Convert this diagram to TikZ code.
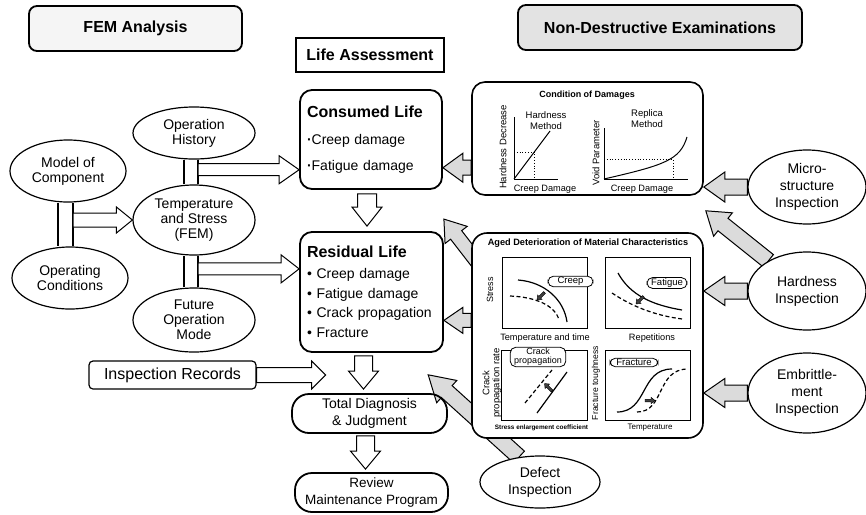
\documentclass[tikz,border=0pt]{standalone}
\usepackage{fontspec}
\setmainfont{Liberation Sans}
\usetikzlibrary{shapes.geometric,calc}
\pgfdeclarelayer{back}
\pgfsetlayers{back,main}

\newcommand{\bigbold}{\fontsize{16}{18}\selectfont\bfseries}
% block arrow: [style]{from}{to}{half shaft}{half head}{head length}
\newcommand{\blockarrow}[6][]{%
  \path (#2) coordinate (ba-s) (#3) coordinate (ba-e);
  \path ($(ba-e)!#6!(ba-s)$) coordinate (ba-h);
  \draw[#1] ($(ba-s)!#4!90:(ba-e)$) -- ($(ba-h)!#4!-90:(ba-s)$)
    -- ($(ba-h)!#5!-90:(ba-s)$) -- (ba-e) -- ($(ba-h)!#5!90:(ba-s)$)
    -- ($(ba-h)!#4!90:(ba-s)$) -- ($(ba-s)!#4!-90:(ba-e)$) -- cycle;}

\begin{document}
\begin{tikzpicture}[x=1pt,y=-1pt,font=\fontsize{14}{15}\selectfont,
  header/.style={draw,rounded corners=8pt,line width=1.8pt,minimum height=45pt,font=\bigbold},
  life box/.style={draw,rounded corners=12pt,line width=1.8pt,fill=white,align=left,inner sep=7pt},
  pill/.style={draw,rounded corners=17pt,line width=1.8pt,align=center,inner sep=2pt,
    minimum height=39pt,font=\fontsize{14}{17}\selectfont},
  fem node/.style={ellipse,draw,line width=1.2pt,fill=white,align=center,inner sep=0pt},
  nde node/.style={ellipse,draw,line width=1.2pt,fill=white,align=center,inner sep=0pt,
    minimum width=118pt,font=\fontsize{14}{17}\selectfont},
  panel/.style={draw,rounded corners=13pt,line width=1.6pt,fill=white,minimum width=231pt},
  pipe/.style={line width=1.2pt},
  hollow/.style={draw,fill=white,line width=1pt},
  shaded/.style={draw,fill=gray!28,line width=1pt},
  mini/.style={draw,fill=black!75,line width=0.4pt},
  plot title/.style={font=\fontsize{9}{10}\selectfont\bfseries},
  small label/.style={font=\fontsize{9.2}{10}\selectfont,inner sep=0pt},
  frame/.style={line width=0.6pt},
  curve/.style={line width=1.2pt},
  tag/.style={draw,rounded corners=5.5pt,line width=0.8pt,fill=white,inner xsep=4pt,inner ysep=1pt,
    align=center,font=\fontsize{9.5}{9}\selectfont}]

  \useasboundingbox (0,0) rectangle (866,514);

  % headers
  \node[header,fill=gray!8,minimum width=213pt] (fem) at (135.5,28.5) {FEM Analysis};
  \node[header,fill=gray!22,minimum width=284pt] (nde) at (660,27.5) {Non-Destructive Examinations};
  \node[draw,line width=1.8pt,minimum width=148pt,minimum height=34pt,font=\bigbold] (life) at (370,55) {Life Assessment};

  % life assessment column
  \node[life box,minimum width=142pt,minimum height=99pt,text width=128pt] (cons) at (371,139.5)
    {{\bigbold Consumed Life}\\[12pt]{\bfseries·}Creep damage\\[11pt]{\bfseries·}Fatigue damage};
  \node[life box,minimum width=143pt,minimum height=120pt,text width=129pt] (resid) at (371.5,292)
    {{\bigbold Residual Life}\\[6pt]\textbullet\ Creep damage\\[4.5pt]\textbullet\ Fatigue damage\\[4.5pt]%
     \textbullet\ Crack propagation\\[4.5pt]\textbullet\ Fracture};
  \node[draw,rounded corners=4pt,line width=1.2pt,minimum width=167pt,minimum height=28pt,
    font=\fontsize{16}{18}\selectfont] (rec) at (172.5,375) {Inspection Records};
  \node[pill,minimum width=155pt] (total) at (369.5,413.5) {Total Diagnosis\\\& Judgment};
  \node[pill,minimum width=153pt,font=\fontsize{13.5}{17}\selectfont] (review) at (371.5,492.5) {Review\\Maintenance Program};

  % FEM side
  \node[fem node,minimum width=116pt,minimum height=62pt] (model) at (68,171) {Model of\\Component};
  \node[fem node,minimum width=116pt,minimum height=62pt] (opcond) at (70,278) {Operating\\Conditions};
  \node[fem node,minimum width=122pt,minimum height=52pt] (hist) at (194,133) {Operation\\History};
  \node[fem node,minimum width=122pt,minimum height=70pt] (temp) at (194,220) {Temperature\\and Stress\\(FEM)};
  \node[fem node,minimum width=122pt,minimum height=64pt] (future) at (194,320) {Future\\Operation\\Mode};

  % inspection side
  \node[nde node,minimum height=74pt] (micro) at (807,187) {Micro-\\structure\\Inspection};
  \node[nde node,minimum height=78pt] (hard) at (807,291) {Hardness\\Inspection};
  \node[nde node,minimum height=80pt] (emb) at (807,393) {Embrittle-\\ment\\Inspection};
  \node[nde node,minimum width=120pt,minimum height=52pt] (defect) at (540,482) {Defect\\Inspection};

  \node[panel,minimum height=113pt] (cond) at (587.5,138.5) {};
  \node[panel,rounded corners=15pt,minimum height=205pt] (aged) at (587.5,335.5) {};

  % pipes and hollow arrows
  \coordinate (pipeA) at ($(model.south)+(5,0)$);
  \coordinate (pipeB) at ($(hist.south)+(4,0)$);
  \coordinate (pipeC) at ($(temp.south)+(4,0)$);
  \draw[pipe] ($(model.south)+(-10,0)$) -- ($(opcond.north)+(-12,0)$) (pipeA) -- ($(opcond.north)+(3,0)$);
  \draw[pipe] ($(hist.south)+(-10,0)$) -- ($(temp.north)+(-10,0)$) (pipeB) -- ($(temp.north)+(4,0)$);
  \draw[pipe] ($(temp.south)+(-10,0)$) -- ($(future.north)+(-10,0)$) (pipeC) -- ($(future.north)+(4,0)$);

  \coordinate (tipB) at ($(cons.south west)!0.2!(cons.north west)$);
  \coordinate (tipC) at ($(resid.south west)!0.69!(resid.north west)$);
  \coordinate (recTip) at ($(rec.east)+(69,0)$);
  \blockarrow[hollow]{temp.west -| pipeA}{temp.west}{7pt}{13pt}{16pt}
  \blockarrow[hollow]{pipeB |- tipB}{tipB}{6pt}{14pt}{20pt}
  \blockarrow[hollow]{pipeC |- tipC}{tipC}{6pt}{14pt}{18pt}
  \blockarrow[hollow]{rec.east}{recTip}{7.5pt}{14pt}{14pt}

  \coordinate (downA) at ($(cons.south)+(-4,4)$);
  \coordinate (downB) at ($(resid.north)+(-4.5,-5)$);
  \coordinate (downC) at ($(resid.south)+(-8,3)$);
  \coordinate (downD) at ($(total.north)+(-6,-4)$);
  \coordinate (downE) at ($(total.south)+(-4,2)$);
  \coordinate (downF) at ($(review.north)+(-6,-3)$);
  \blockarrow[hollow]{downA}{downB}{9.5pt}{15pt}{19pt}
  \blockarrow[hollow]{downC}{downD}{9pt}{15pt}{18pt}
  \blockarrow[hollow]{downE}{downF}{9pt}{15pt}{18pt}

  % shaded arrows from the inspections
  \coordinate (tipCons) at ($(cons.south east)!0.22!(cons.north east)$);
  \coordinate (tipResid) at ($(resid.south east)!0.267!(resid.north east)$);
  \coordinate (diagA) at ($(resid.north east)+(0,-12)$);
  \coordinate (diagH) at ($(cond.south east)+(2,15)$);
  \coordinate (diagD) at ($(aged.south west)+(-43,-64)$);
  \begin{pgfonlayer}{back}
    \blockarrow[shaded]{cond.west |- tipCons}{tipCons}{7.5pt}{14.5pt}{20pt}
    \blockarrow[shaded]{aged.west |- tipResid}{tipResid}{7pt}{13pt}{19pt}
    \blockarrow[shaded]{$(aged.north west)+(6,30)$}{diagA}{7pt}{14pt}{20pt}
    \blockarrow[shaded]{micro.west}{cond.east |- micro.west}{8pt}{15pt}{21pt}
    \blockarrow[shaded]{hard.142}{diagH}{8pt}{15pt}{22pt}
    \blockarrow[shaded]{hard.west}{aged.east |- hard.west}{8pt}{14.5pt}{21pt}
    \blockarrow[shaded]{emb.west}{aged.east |- emb.west}{8pt}{14.5pt}{21pt}
    \blockarrow[shaded]{defect.130}{diagD}{8pt}{15pt}{25pt}
  \end{pgfonlayer}

  % condition of damages
  \node[plot title] (condTitle) at (587,95) {Condition of Damages};
  \draw[frame] (514,117) -- (514,179) -- (558,179);
  \draw[curve,line width=1pt] (514,179) -- (550,131);
  \draw[dotted,line width=0.8pt] (514,152) -- (534,152) -- (534,179);
  \node[small label,rotate=90,font=\fontsize{9.5}{10}\selectfont] (hdLabel) at (503,147) {Hardness Decrease};
  \node[small label,align=center,font=\fontsize{9.5}{11}\selectfont] (hmLabel) at (546,121) {Hardness\\Method};
  \node[small label] (cdLabelA) at (545,189) {Creep Damage};
  \draw[frame] (604,128) -- (604,179) -- (688,179);
  \draw[curve,line width=1pt] (604,179) .. controls (665,165) and (680,160) .. (687,137);
  \draw[dotted,line width=0.8pt] (604,159) -- (673,159) -- (673,179);
  \node[small label,rotate=90,font=\fontsize{9.5}{10}\selectfont] (vpLabel) at (596,153) {Void Parameter};
  \node[small label,align=center,font=\fontsize{9.5}{11}\selectfont] (rmLabel) at (647,119) {Replica\\Method};
  \node[small label] (cdLabelB) at (642,189) {Creep Damage};

  % aged deterioration
  \node[plot title,font=\fontsize{9.2}{10}\selectfont\bfseries] (agedTitle) at (588,243) {Aged Deterioration of Material Characteristics};
  \draw[frame] (502,257) rectangle (587,328);
  \draw[frame] (605,257) rectangle (690,328);
  \draw[frame] (501,350) rectangle (587,420);
  \draw[frame] (605,350) rectangle (690,420);

  \draw[curve] (518,280) .. controls (545,282) and (564,300) .. (567,322);
  \draw[curve,dashed,dash pattern=on 4pt off 2.5pt] (510,296) .. controls (535,297) and (555,305) .. (559,320);
  \draw[curve] (618,273) .. controls (630,295) and (652,305) .. (682,310);
  \draw[curve,dashed,dash pattern=on 4pt off 2.5pt] (612,293) .. controls (630,305) and (652,315) .. (682,319);
  \draw[curve,dashed,dash pattern=on 4pt off 2.5pt] (525,403) -- (552,370);
  \draw[curve] (537,413) -- (567,372);
  \draw[curve] (617,412) .. controls (648,412) and (640,369) .. (672,369);
  \draw[curve,dashed,dash pattern=on 4pt off 2.5pt] (637,412) .. controls (665,412) and (656,369) .. (688,369);

  \blockarrow[mini]{544.5,292.5}{537,300}{1.3pt}{3.2pt}{4pt}
  \blockarrow[mini]{643.5,296.5}{636,304}{1.3pt}{3.2pt}{4pt}
  \blockarrow[mini]{552,391}{544.5,383.5}{1.3pt}{3.2pt}{4pt}
  \blockarrow[mini]{645,400.5}{655,400.5}{1.3pt}{3.2pt}{4pt}

  \node[tag,minimum width=45pt] (tagCreep) at (570.5,281.5) {Creep};
  \node[tag,minimum width=40pt] (tagFatigue) at (667,283) {Fatigue};
  \node[tag,font=\fontsize{9}{9}\selectfont,inner xsep=4pt] (tagCrack) at (538,357) {Crack\\propagation};
  \node[tag,minimum width=48pt] (tagFracture) at (634,362.5) {Fracture};

  \node[small label,rotate=90,font=\fontsize{9}{10}\selectfont] (stressLabel) at (490,290) {Stress};
  \node[small label,rotate=90,align=center,font=\fontsize{9.5}{10}\selectfont] (crackLabel) at (492,383) {Crack\\propagation rate};
  \node[small label,rotate=90,font=\fontsize{8.6}{10}\selectfont] (toughLabel) at (596,383) {Fracture toughness};
  \node[small label] (ttLabel) at (545,338) {Temperature and time};
  \node[small label] (repLabel) at (652,338) {Repetitions};
  \node[small label,font=\fontsize{6.4}{8}\selectfont\bfseries] (secLabel) at (541.5,428) {Stress enlargement coefficient};
  \node[small label,font=\fontsize{8}{9}\selectfont] (tempLabel) at (650,428) {Temperature};
\end{tikzpicture}
\end{document}
